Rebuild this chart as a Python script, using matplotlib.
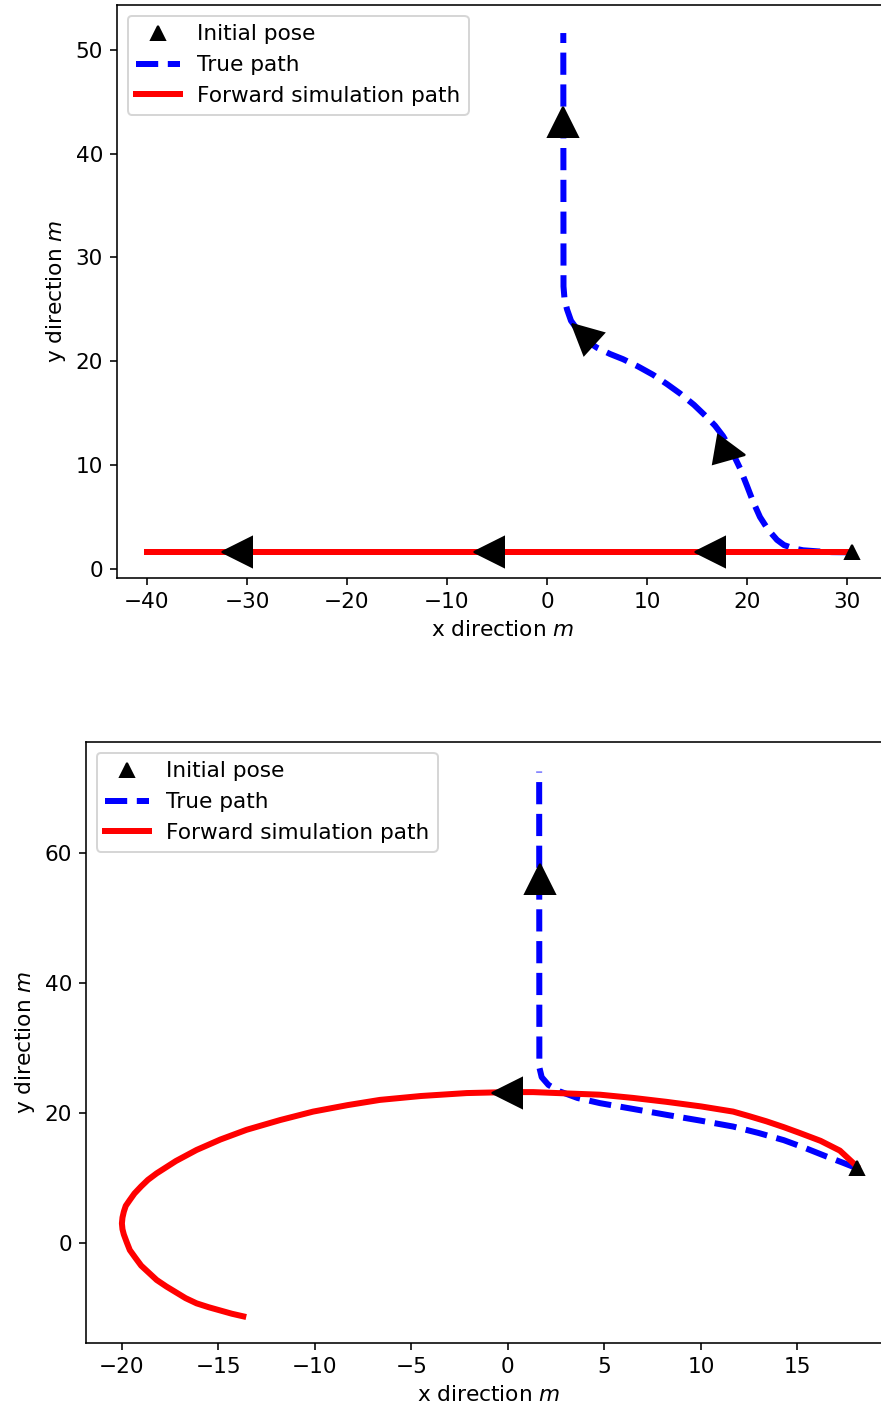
import matplotlib
matplotlib.use('Agg')
import matplotlib.pyplot as plt
from matplotlib.markers import MarkerStyle
from matplotlib.transforms import Affine2D

plt.rcParams['font.size'] = 10.8

# --- Top scenario: straight forward simulation ---
top_true_x = [30.5, 28.5, 27.0, 25.6, 24.6, 23.7, 23.0, 22.1, 21.3, 20.6, 20.0, 19.3, 18.5, 17.6,
              16.8, 16.0, 14.7, 13.3, 12.0, 10.6, 9.1, 7.6, 6.3, 5.0, 3.9, 3.0, 2.4, 2.0, 1.75,
              1.65, 1.63]
top_true_y = [1.6, 1.62, 1.7, 1.8, 2.0, 2.3, 2.8, 3.8, 5.0, 6.5, 8.0, 9.7, 11.3, 12.8,
              13.8, 14.6, 15.8, 16.9, 17.8, 18.7, 19.5, 20.2, 20.7, 21.3, 22.0, 23.1, 23.9, 25.0, 26.0,
              27.2, 51.6]
top_sim_x = [30.5, 0.0, -40.0]
top_sim_y = [1.6, 1.6, 1.6]
top_arrow_x = [1.55, 3.6, 18.3, -31.05, -5.8, 16.3]
top_arrow_y = [43.0, 22.6, 11.3, 1.6, 1.6, 1.6]
top_heading = [90, 138, -10, 180, 180, 180]

# --- Bottom scenario: curved forward simulation ---
bot_true_x = [18.07, 17.3, 16.5, 15.4, 14.3, 13.0, 11.67, 10.0, 8.22, 6.5, 4.77, 3.6, 2.69,
              2.1, 1.75, 1.63, 1.62]
bot_true_y = [11.5, 12.4, 13.3, 14.6, 15.8, 16.9, 17.9, 18.8, 19.7, 20.6, 21.5, 22.3, 23.3,
              24.3, 25.5, 27.0, 72.5]
bot_sim_x = [18.07, 17.2, 16.2, 15.13, 14.3, 13.4, 12.5, 11.67, 10.0, 8.22, 6.5, 4.77, 3.0,
             1.31, 0.0, -2.14, -4.5, -6.63, -8.3, -10.09, -11.8, -13.54, -14.9, -16.13,
             -17.2, -18.2, -18.65, -19.0, -19.35, -19.59, -19.8, -19.9, -19.97, -20.0, -19.97,
             -19.9, -19.75, -19.59, -19.3, -19.0, -18.6, -18.2, -17.7, -17.2, -16.7, -16.13,
             -15.5, -14.9, -14.3, -13.71]
bot_sim_y = [11.8, 14.2, 15.7, 16.9, 17.8, 18.7, 19.5, 20.2, 21.0, 21.7, 22.3, 22.8, 23.0,
             23.2, 23.2, 23.05, 22.6, 22.0, 21.2, 20.2, 18.9, 17.4, 15.9, 14.3,
             12.6, 10.7, 9.7, 8.7, 7.6, 6.6, 5.7, 4.8, 3.9, 3.0, 2.1,
             1.3, 0.1, -1.1, -2.3, -3.5, -4.6, -5.7, -6.7, -7.6, -8.5, -9.3,
             -9.9, -10.4, -10.9, -11.3]
bot_arrow_x = [1.64, -0.03]
bot_arrow_y = [56.0, 23.0]
bot_heading = [90, 180]


def arrow_marker(angle):
    return MarkerStyle('^', transform=Affine2D().rotate_deg(angle - 90))


def draw(ax, tx, ty, sx, sy, ax_x, ax_y, headings):
    ax.plot(tx[0], ty[0], '^', color='black', markersize=7, linestyle='none',
            label='Initial pose', zorder=5)
    ax.plot(tx, ty, '--', color='blue', linewidth=3, label='True path', zorder=2)
    ax.plot(sx, sy, '-', color='red', linewidth=3, label='Forward simulation path', zorder=3)
    for x, y, h in zip(ax_x, ax_y, headings):
        ax.plot(x, y, marker=arrow_marker(h), color='black', markersize=15,
                linestyle='none', zorder=4)
    ax.set_xlabel('x direction $m$')
    ax.set_ylabel('y direction $m$')
    ax.legend(loc='upper left')


W, H = 881, 1414
fig = plt.figure(figsize=(W / 144, H / 144), dpi=144)

# axes run slightly past the right edge of the (cropped) figure
ax1 = fig.add_axes([117 / W, (H - 578) / H, 772 / W, 573 / H])
draw(ax1, top_true_x, top_true_y, top_sim_x, top_sim_y, top_arrow_x, top_arrow_y, top_heading)
ax1.set_xlim(-43.0, -43.0 + 77.2)
ax1.set_ylim(-0.87, 54.3)
ax1.set_xticks([-40, -30, -20, -10, 0, 10, 20, 30])
ax1.set_yticks([0, 10, 20, 30, 40, 50])

ax2 = fig.add_axes([86 / W, (H - 1343) / H, 806 / W, 601 / H])
draw(ax2, bot_true_x, bot_true_y, bot_sim_x, bot_sim_y, bot_arrow_x, bot_arrow_y, bot_heading)
ax2.set_xlim(-21.86, -21.86 + 806 / 19.3)
ax2.set_ylim(-15.4, 77.06)
ax2.set_xticks([-20, -15, -10, -5, 0, 5, 10, 15])
ax2.set_yticks([0, 20, 40, 60])

fig.savefig('out.png', dpi=144)
